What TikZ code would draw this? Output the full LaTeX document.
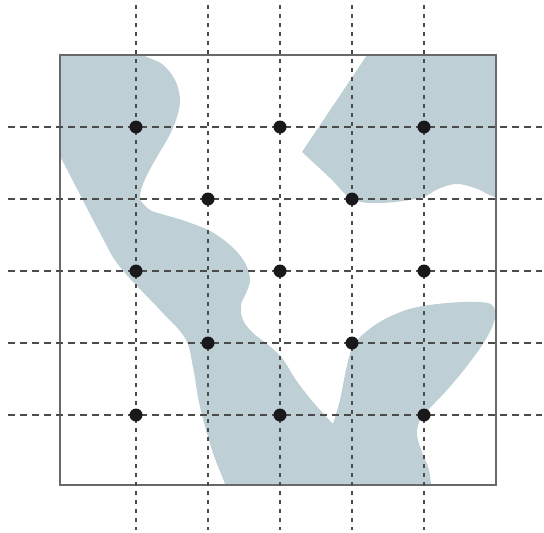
\documentclass[tikz,border=0pt]{standalone}
\definecolor{regionfill}{RGB}{190,207,213}
\definecolor{boxline}{RGB}{105,105,105}
\definecolor{gridline}{RGB}{75,75,75}
\definecolor{dotcol}{RGB}{25,25,28}
\tikzset{
  vgrid/.style={draw=gridline,line width=1.6pt,dash pattern=on 4pt off 5pt},
  hgrid/.style={draw=gridline,line width=1.5pt,dash pattern=on 7pt off 5pt},
  gpoint/.style={circle,fill=dotcol,inner sep=0pt,minimum size=13pt},
  region/.style={fill=regionfill},
}
\begin{document}
\begin{tikzpicture}[x=1pt,y=-1pt]
\useasboundingbox (0,0) rectangle (544,533);
\begin{scope}
\clip (60,55) rectangle (496,485);
% left / lower region
\fill[region] (50,45) -- (138,45)
  -- plot[smooth,tension=0.6] coordinates {(138,45) (143,55) (162,64) (175,80) (180,100) (176,120) (168,138) (158,155) (147,175) (141,190) (140,200)}
  -- plot[smooth,tension=0.6] coordinates {(140,200) (150,210) (165,215) (185,221) (210,231) (230,245) (244,261) (250,278) (247,291) (241,305) (243,320) (253,333) (267,344) (282,358) (296,380) (313,402) (333,424)}
  -- plot[smooth,tension=0.6] coordinates {(333,424) (340,400) (346,370) (353,346) (367,331) (387,318) (413,308) (447,303) (477,302) (492,305) (495,318) (486,339) (467,366) (447,390) (430,408) (420,420) (417,435) (422,452) (429,470) (432,495)}
  -- (226,495)
  -- plot[smooth,tension=0.6] coordinates {(226,495) (225,484) (213,453) (200,407) (193,367) (185,338) (160,310) (120,267) (100,233) (62,160) (52,145)}
  -- cycle;
% upper right region
\fill[region] (374,45) -- (367,55) -- (302,152)
  -- plot[smooth,tension=0.6] coordinates {(302,152) (330,178) (352,199) (380,203) (420,198) (438,189) (456,184) (475,188) (492,196) (505,199)}
  -- (505,45) -- cycle;
\end{scope}
% frame
\draw[boxline,line width=1.8pt] (60,55) rectangle (496,485);
% grid
\foreach \x in {136,208,280,352,424} {\draw[vgrid] (\x,5) -- (\x,530);}
\foreach \y in {127,199,271,343,415} {\draw[hgrid] (8,\y) -- (542,\y);}
% points
\node[gpoint] (p11) at (136,127) {};
\node[gpoint] (p13) at (280,127) {};
\node[gpoint] (p15) at (424,127) {};
\node[gpoint] (p22) at (208,199) {};
\node[gpoint] (p24) at (352,199) {};
\node[gpoint] (p31) at (136,271) {};
\node[gpoint] (p33) at (280,271) {};
\node[gpoint] (p35) at (424,271) {};
\node[gpoint] (p42) at (208,343) {};
\node[gpoint] (p44) at (352,343) {};
\node[gpoint] (p51) at (136,415) {};
\node[gpoint] (p53) at (280,415) {};
\node[gpoint] (p55) at (424,415) {};
\end{tikzpicture}
\end{document}
